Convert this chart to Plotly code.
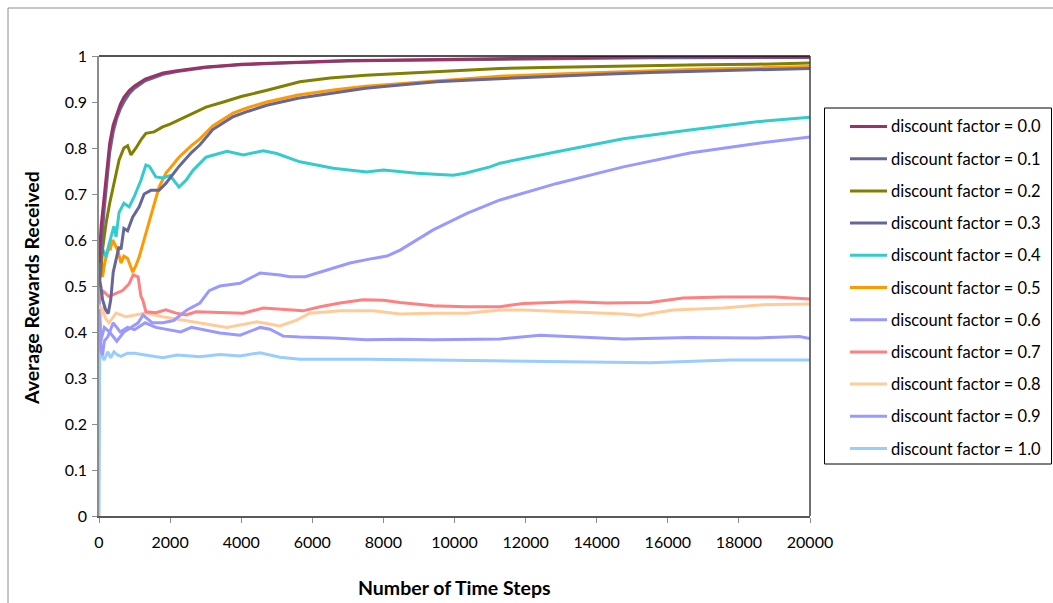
import plotly.graph_objects as go

# Average reward received vs. time step, one run per discount factor
series_names = [
    "discount factor = 0.0", "discount factor = 0.1", "discount factor = 0.2",
    "discount factor = 0.3", "discount factor = 0.4", "discount factor = 0.5",
    "discount factor = 0.6", "discount factor = 0.7", "discount factor = 0.8",
    "discount factor = 0.9", "discount factor = 1.0",
]
series_colors = [
    "#993366", "#666699", "#808000", "#666699", "#33CCCC", "#FF9900",
    "#9999FF", "#FF8080", "#FFCC99", "#9999FF", "#99CCFF",
]

steps_g00 = [0, 30, 60, 100, 150, 200, 300, 400, 500, 600, 700, 850, 1000, 1300, 1600, 1800,
             2200, 2600, 3000, 3500, 4000, 5000, 6000, 7000, 8000, 9000, 10000, 12000, 14000,
             15500, 16000, 18000, 20000]
reward_g00 = [0.55, 0.60, 0.63, 0.66, 0.70, 0.74, 0.81, 0.85, 0.875, 0.895, 0.91, 0.925, 0.935,
              0.95, 0.958, 0.963, 0.968, 0.972, 0.976, 0.979, 0.982, 0.985, 0.988, 0.99, 0.991,
              0.992, 0.993, 0.994, 0.996, 0.997, 0.999, 0.998, 0.998]

steps_g01 = steps_g00
reward_g01 = [0.50, 0.54, 0.58, 0.62, 0.67, 0.71, 0.79, 0.835, 0.865, 0.885, 0.90, 0.918, 0.93,
              0.946, 0.955, 0.96, 0.966, 0.97, 0.975, 0.978, 0.981, 0.984, 0.987, 0.989, 0.99,
              0.991, 0.992, 0.994, 0.995, 0.996, 0.996, 0.997, 0.997]

steps_g02 = [0, 50, 100, 200, 300, 385, 480, 565, 700, 805, 900, 1040, 1200, 1320, 1550, 1790,
             2000, 2250, 2600, 3010, 3500, 4000, 4700, 5650, 6500, 7500, 8470, 9500, 10500,
             11280, 12500, 13800, 15000, 15700, 17000, 18500, 20000]
reward_g02 = [0.50, 0.53, 0.58, 0.637, 0.68, 0.709, 0.745, 0.774, 0.80, 0.805, 0.785, 0.80,
              0.82, 0.832, 0.835, 0.846, 0.852, 0.861, 0.873, 0.889, 0.90, 0.912, 0.925, 0.944,
              0.952, 0.958, 0.962, 0.966, 0.970, 0.973, 0.975, 0.977, 0.978, 0.980, 0.981,
              0.982, 0.985]

steps_g03 = [0, 50, 100, 180, 260, 330, 400, 480, 560, 620, 700, 805, 950, 1130, 1270, 1460,
             1690, 1880, 2250, 2600, 2840, 3200, 3770, 4200, 4720, 5600, 6590, 7500, 8470,
             9500, 10500, 11280, 12500, 14000, 15500, 17000, 18500, 20000]
reward_g03 = [0.52, 0.50, 0.47, 0.45, 0.44, 0.47, 0.53, 0.56, 0.585, 0.58, 0.625, 0.62, 0.65,
              0.672, 0.70, 0.708, 0.708, 0.723, 0.76, 0.79, 0.807, 0.84, 0.868, 0.88, 0.893,
              0.908, 0.92, 0.93, 0.937, 0.944, 0.948, 0.951, 0.955, 0.96, 0.964, 0.967, 0.97,
              0.973]

steps_g04 = [0, 50, 100, 200, 280, 340, 420, 480, 565, 700, 850, 990, 1180, 1320, 1420, 1600,
             1800, 2000, 2250, 2450, 2650, 3010, 3300, 3600, 4060, 4620, 5000, 5650, 6590,
             7530, 8000, 8940, 9960, 10300, 11000, 11280, 12880, 14750, 16620, 18500, 20000]
reward_g04 = [0.55, 0.60, 0.58, 0.563, 0.59, 0.607, 0.63, 0.607, 0.66, 0.68, 0.672, 0.694,
              0.73, 0.763, 0.76, 0.737, 0.735, 0.74, 0.715, 0.73, 0.752, 0.78, 0.787, 0.793,
              0.785, 0.794, 0.788, 0.77, 0.756, 0.748, 0.752, 0.745, 0.741, 0.745, 0.759,
              0.767, 0.792, 0.82, 0.839, 0.857, 0.867]

steps_g05 = [0, 50, 100, 160, 245, 320, 385, 450, 525, 620, 700, 805, 880, 950, 1040, 1130,
             1320, 1510, 1690, 1880, 2250, 2600, 2840, 3200, 3770, 4200, 4720, 5600, 6590,
             7500, 8470, 9500, 10500, 11280, 12500, 14000, 15500, 17000, 18500, 20000]
reward_g05 = [0.50, 0.56, 0.52, 0.55, 0.578, 0.58, 0.60, 0.59, 0.578, 0.55, 0.565, 0.56,
              0.545, 0.53, 0.545, 0.563, 0.615, 0.665, 0.715, 0.745, 0.78, 0.805, 0.82, 0.848,
              0.876, 0.888, 0.90, 0.915, 0.926, 0.934, 0.94, 0.946, 0.952, 0.956, 0.96, 0.964,
              0.969, 0.972, 0.974, 0.977]

steps_g06 = [0, 50, 150, 300, 500, 700, 900, 1100, 1240, 1500, 1800, 2100, 2475, 2840, 3100,
             3400, 3970, 4530, 5090, 5370, 5800, 6410, 7060, 7710, 8100, 8470, 9400, 10350,
             11280, 12880, 14750, 16620, 18500, 20000]
reward_g06 = [0.45, 0.38, 0.41, 0.40, 0.38, 0.40, 0.41, 0.42, 0.437, 0.42, 0.42, 0.425, 0.448,
              0.463, 0.49, 0.50, 0.506, 0.528, 0.524, 0.52, 0.52, 0.535, 0.55, 0.56, 0.565,
              0.578, 0.622, 0.658, 0.687, 0.723, 0.759, 0.789, 0.81, 0.824]

steps_g07 = [0, 50, 100, 280, 480, 665, 850, 960, 1100, 1180, 1230, 1320, 1600, 1880, 2170,
             2450, 2730, 3400, 4060, 4620, 5280, 5740, 6220, 6780, 7430, 8000, 8470, 9400,
             10300, 11280, 11940, 13340, 14280, 15500, 16430, 17550, 19000, 20000]
reward_g07 = [0.50, 0.47, 0.49, 0.477, 0.484, 0.49, 0.505, 0.524, 0.52, 0.477, 0.47, 0.444,
              0.442, 0.448, 0.441, 0.437, 0.444, 0.442, 0.441, 0.452, 0.448, 0.446, 0.455,
              0.463, 0.47, 0.469, 0.464, 0.457, 0.455, 0.455, 0.462, 0.466, 0.463, 0.464,
              0.474, 0.476, 0.476, 0.472]

steps_g08 = [0, 50, 100, 180, 280, 480, 760, 1040, 1320, 1790, 2350, 2730, 3100, 3600, 4440,
             5090, 5560, 5930, 6780, 7710, 8470, 9400, 10350, 11280, 11940, 13340, 14750,
             15200, 16150, 17550, 18680, 20000]
reward_g08 = [0.46, 0.43, 0.455, 0.43, 0.42, 0.441, 0.433, 0.437, 0.441, 0.433, 0.426, 0.422,
              0.417, 0.41, 0.422, 0.413, 0.426, 0.441, 0.446, 0.446, 0.439, 0.441, 0.441,
              0.448, 0.448, 0.444, 0.439, 0.436, 0.448, 0.452, 0.459, 0.461]

steps_g09 = [0, 50, 100, 150, 250, 400, 600, 800, 1000, 1300, 1600, 2000, 2300, 2600, 2840,
             3400, 3970, 4530, 4810, 5180, 5650, 6590, 7530, 8470, 9400, 10350, 11280, 12400,
             13800, 14750, 16600, 18500, 19700, 20000]
reward_g09 = [0.50, 0.36, 0.35, 0.38, 0.39, 0.42, 0.40, 0.41, 0.405, 0.42, 0.41, 0.405, 0.40,
              0.41, 0.406, 0.398, 0.393, 0.41, 0.406, 0.391, 0.389, 0.387, 0.383, 0.384, 0.383,
              0.384, 0.385, 0.393, 0.389, 0.385, 0.388, 0.387, 0.39, 0.386]

steps_g10 = [0, 10, 25, 50, 80, 140, 245, 330, 420, 520, 620, 800, 1000, 1300, 1790, 2200,
             2840, 3400, 3970, 4530, 5090, 5650, 7530, 9400, 11280, 13300, 15500, 17750, 20000]
reward_g10 = [0.0, 0.30, 0.42, 0.37, 0.35, 0.339, 0.357, 0.344, 0.357, 0.35, 0.347, 0.354,
              0.354, 0.35, 0.344, 0.35, 0.346, 0.351, 0.348, 0.355, 0.345, 0.341, 0.341, 0.339,
              0.337, 0.336, 0.333, 0.339, 0.339]

all_steps = [steps_g00, steps_g01, steps_g02, steps_g03, steps_g04, steps_g05,
             steps_g06, steps_g07, steps_g08, steps_g09, steps_g10]
all_rewards = [reward_g00, reward_g01, reward_g02, reward_g03, reward_g04, reward_g05,
               reward_g06, reward_g07, reward_g08, reward_g09, reward_g10]

x_ticks = list(range(0, 20001, 2000))
x_tick_text = [str(v) for v in x_ticks]
y_ticks = [0, 0.1, 0.2, 0.3, 0.4, 0.5, 0.6, 0.7, 0.8, 0.9, 1]
y_tick_text = ["0", "0.1", "0.2", "0.3", "0.4", "0.5", "0.6", "0.7", "0.8", "0.9", "1"]

W, H = 1053, 603
ML, MR, MT, MB = 99, 243, 56, 87
PW, PH = W - ML - MR, H - MT - MB
FONT = "Lato"


def px_x(px):
    return (px - ML) / PW


def px_y(py):
    return (H - MB - py) / PH


fig = go.Figure()

# draw higher factors first so low-factor curves sit on top
for i in reversed(range(len(series_names))):
    fig.add_trace(go.Scatter(
        x=all_steps[i], y=all_rewards[i], mode="lines", name=series_names[i],
        line=dict(color=series_colors[i], width=3), showlegend=False,
    ))

shapes = []
annotations = []

# outer chart frame
shapes.append(dict(type="rect", xref="paper", yref="paper",
                   x0=px_x(8), x1=px_x(1070), y0=px_y(8), y1=px_y(620),
                   line=dict(color="#8c8c8c", width=1)))
# top and right edges of plot area
shapes.append(dict(type="line", xref="paper", yref="paper", x0=0, x1=1, y0=1, y1=1,
                   line=dict(color="#1a1a1a", width=1.5)))
shapes.append(dict(type="line", xref="paper", yref="paper", x0=1, x1=1, y0=0, y1=1,
                   line=dict(color="#404040", width=1.5)))

# legend box
shapes.append(dict(type="rect", xref="paper", yref="paper",
                   x0=px_x(824.5), x1=px_x(1051.5), y0=px_y(108), y1=px_y(464),
                   line=dict(color="#000000", width=1), fillcolor="white"))
for i, name in enumerate(series_names):
    yy = px_y(126.5 + i * 32.2)
    shapes.append(dict(type="line", xref="paper", yref="paper",
                       x0=px_x(850), x1=px_x(887), y0=yy, y1=yy,
                       line=dict(color=series_colors[i], width=3)))
    annotations.append(dict(xref="paper", yref="paper", x=px_x(889), y=yy, text=name,
                            showarrow=False, xanchor="left", yanchor="middle",
                            font=dict(family=FONT, size=16.5, color="black")))

annotations.append(dict(xref="paper", yref="paper", x=px_x(31), y=px_y(288),
                        text="<b>Average Rewards Received</b>", textangle=-90,
                        showarrow=False, xanchor="center", yanchor="middle",
                        font=dict(family=FONT, size=19.5, color="black")))
annotations.append(dict(xref="paper", yref="paper", x=px_x(454), y=px_y(587),
                        text="<b>Number of Time Steps</b>",
                        showarrow=False, xanchor="center", yanchor="middle",
                        font=dict(family=FONT, size=19.5, color="black")))

fig.update_layout(
    width=W, height=H,
    margin=dict(l=ML, r=MR, t=MT, b=MB, pad=0),
    paper_bgcolor="white", plot_bgcolor="white",
    shapes=shapes, annotations=annotations,
    showlegend=False,
    xaxis=dict(range=[0, 20000], tickvals=x_ticks, ticktext=x_tick_text, showgrid=False,
               zeroline=False, showline=True, linecolor="#595959", linewidth=1.5,
               ticks="outside", ticklen=5, tickcolor="#8c8c8c", tickwidth=1,
               ticklabelstandoff=6,
               tickfont=dict(family=FONT, size=16, color="black")),
    yaxis=dict(range=[0, 1], tickvals=y_ticks, ticktext=y_tick_text, showgrid=False,
               zeroline=False, showline=True, linecolor="#8c8c8c", linewidth=1.5,
               ticks="outside", ticklen=5, tickcolor="#8c8c8c", tickwidth=1,
               ticklabelstandoff=2,
               tickfont=dict(family=FONT, size=16, color="black")),
)

fig.write_html("out.html")
